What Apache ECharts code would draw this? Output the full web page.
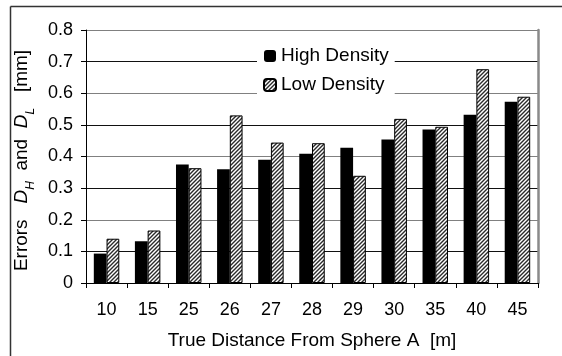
<!DOCTYPE html>
<html>
<head>
<meta charset="utf-8">
<script src="https://cdn.jsdelivr.net/npm/echarts@6/dist/echarts.min.js"></script>
<style>
html,body{margin:0;padding:0;background:#fff;}
#c{width:562px;height:356px;}
</style>
</head>
<body>
<div id="c"></div>
<script>
const categories = ['10','15','25','26','27','28','29','30','35','40','45'];
const highDensity = [0.093,0.132,0.375,0.360,0.390,0.409,0.428,0.454,0.485,0.532,0.573];
const lowDensity  = [0.140,0.166,0.363,0.530,0.444,0.442,0.339,0.519,0.494,0.676,0.589];
const yTicks = {min:0, max:0.8, step:0.1};

function hatch(){
  const s = 4;
  const cv = document.createElement('canvas');
  cv.width = s; cv.height = s;
  const g = cv.getContext('2d');
  g.fillStyle = '#fff'; g.fillRect(0,0,s,s);
  g.strokeStyle = '#2a2a2a'; g.lineWidth = 1.4;
  g.beginPath();
  g.moveTo(-1, s+1); g.lineTo(s+1, -1);
  g.moveTo(-1, 1); g.lineTo(1, -1);
  g.moveTo(s-1, s+1); g.lineTo(s+1, s-1);
  g.stroke();
  return cv;
}
const pat = {image: hatch(), repeat: 'repeat'};
const FONT = 'Liberation Sans, Arial, sans-serif';

const chart = echarts.init(document.getElementById('c'), null, {renderer:'canvas'});
chart.setOption({
  animation:false,
  backgroundColor:'#fff',
  textStyle:{fontFamily:FONT, color:'#000'},
  grid:{left:86, right:24, top:30, bottom:73},
  legend:{
    orient:'vertical', left:257, top:42,
    padding:[4,6,4,6], backgroundColor:'#fff',
    itemWidth:12, itemHeight:12, itemGap:9,
    textStyle:{fontFamily:FONT, fontSize:19, color:'#000', lineHeight:20},
    data:['High Density','Low Density']
  },
  xAxis:{
    type:'category', data:categories,
    axisLine:{lineStyle:{color:'#000', width:1}},
    axisTick:{show:true, length:5, lineStyle:{color:'#000'}},
    axisLabel:{fontSize:18, color:'#000', margin:18, fontFamily:FONT},
    name:'True Distance From Sphere A  [m]', nameLocation:'middle', nameGap:48,
    nameTextStyle:{fontSize:19, color:'#000', fontFamily:FONT}
  },
  yAxis:[{
    type:'value', min:yTicks.min, max:yTicks.max, interval:yTicks.step,
    axisLine:{show:true, lineStyle:{color:'#000', width:1}},
    axisTick:{show:true, length:5, lineStyle:{color:'#000'}},
    axisLabel:{fontSize:18, color:'#000', margin:13, fontFamily:FONT},
    splitLine:{show:true, lineStyle:{color:['#808080','#111'], width:1}},
    name:'{t|Errors   }{d|D}{s|H}{t|  and  }{d|D}{s|L}{t|   [mm]}',
    nameLocation:'middle', nameGap:47,
    nameTextStyle:{
      padding:[0,8,0,0],
      rich:{
        t:{fontSize:19, color:'#000', fontFamily:FONT},
        d:{fontSize:19, color:'#000', fontFamily:FONT, fontStyle:'italic'},
        s:{fontSize:12, color:'#000', fontFamily:FONT, fontStyle:'italic', verticalAlign:'bottom', padding:[0,0,-6,0]}
      }
    }
  },{
    type:'value', position:'right', min:yTicks.min, max:yTicks.max, interval:yTicks.step,
    axisLine:{show:true, lineStyle:{color:'#8a8a8a', width:2.5}},
    axisTick:{show:false}, axisLabel:{show:false}, splitLine:{show:false}
  }],
  series:[{
    name:'High Density', type:'bar', data:highDensity,
    barWidth:'31%', barGap:'0%',
    itemStyle:{color:'#000'}
  },{
    name:'Low Density', type:'bar', data:lowDensity,
    barWidth:'31%',
    itemStyle:{color:pat, borderColor:'#000', borderWidth:1}
  }],
  graphic:[
    {type:'line', shape:{x1:10.5,y1:6.5,x2:562,y2:6.5}, style:{stroke:'#333', lineWidth:1.5}, silent:true},
    {type:'line', shape:{x1:10.5,y1:6.5,x2:10.5,y2:356}, style:{stroke:'#333', lineWidth:1.5}, silent:true}
  ]
});
</script>
</body>
</html>
